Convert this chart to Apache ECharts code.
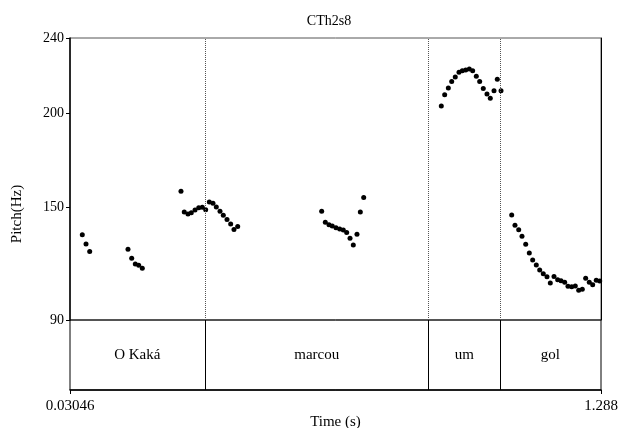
<!DOCTYPE html>
<html><head><meta charset="utf-8">
<script src="https://cdn.jsdelivr.net/npm/echarts@6/dist/echarts.min.js"></script>
<style>html,body{margin:0;padding:0;background:#fff}#c{width:619px;height:428px}</style>
</head><body><div id="c"></div>
<script>
const chartTitle = "CTh2s8";
const xName = "Time (s)";
const yName = "Pitch(Hz)";
const xMin = 0.03046, xMax = 1.288;
const yMin = 90, yMax = 240;
const yTicks = [90, 150, 200, 240];
const xTicks = [0.03046, 1.288];
const xTickLabels = ["0.03046", "1.288"];

const times = [
  0.0596, 0.0684, 0.0771,
  0.1678, 0.1766, 0.1851, 0.1932, 0.2017,
  0.2933, 0.3011, 0.3099, 0.3177, 0.3265, 0.3353, 0.3438, 0.3518, 0.3604, 0.3691, 0.3769, 0.3857, 0.3935, 0.4023, 0.4110, 0.4188, 0.4276,
  0.6265, 0.6351, 0.6438, 0.6516, 0.6604, 0.6692, 0.6777, 0.6857, 0.6936, 0.7014, 0.7101, 0.7180, 0.7260,
  0.9098, 0.9178, 0.9264, 0.9344, 0.9429, 0.9517, 0.9595, 0.9676, 0.9761, 0.9841, 0.9927, 1.0007, 1.0092, 1.0180, 1.0258, 1.0346, 1.0424, 1.0512,
  1.0765, 1.0843, 1.0931, 1.1009, 1.1097, 1.1182, 1.1262, 1.1348, 1.1428, 1.1513, 1.1601, 1.1679, 1.1767, 1.1854, 1.1933, 1.2020, 1.2098, 1.2186, 1.2271, 1.2352, 1.2437, 1.2517, 1.2603, 1.2683, 1.2768, 1.2849
];
const pitch = [
  135.4, 130.4, 126.5,
  127.6, 122.8, 119.8, 119.1, 117.5,
  158.5, 147.4, 146.4, 147.1, 148.5, 149.7, 150.0, 148.7, 152.7, 152.1, 150.1, 147.8, 145.7, 143.4, 141.1, 138.2, 139.8,
  147.8, 142.0, 140.7, 140.0, 139.1, 138.4, 137.9, 136.6, 133.5, 129.9, 135.6, 147.4, 155.1,
  203.8, 209.8, 213.4, 216.8, 219.3, 221.8, 222.6, 223.0, 223.5, 222.6, 219.6, 216.8, 213.2, 210.2, 207.9, 212.0, 218.0, 212.0,
  145.9, 140.4, 138.0, 134.5, 130.3, 125.6, 121.9, 119.3, 116.6, 114.6, 113.0, 109.7, 113.2, 111.4, 110.9, 110.1, 107.9, 107.7, 108.1, 105.8, 106.3, 112.2, 110.1, 108.8, 111.1, 110.7
];
const boundaries = [0.3490, 0.8806, 1.0476];
const intervalLabels = ["O Kaká", "marcou", "um", "gol"];

const FONT = "Liberation Serif";
const edges = [xMin, ...boundaries, xMax];
const labelData = intervalLabels.map((t, i) => ({ value: [(edges[i] + edges[i + 1]) / 2, 0.5], name: t }));
const pts = times.map((t, i) => [t, pitch[i]]);

const chart = echarts.init(document.getElementById('c'), null, { renderer: 'canvas' });
chart.setOption({
  animation: false,
  backgroundColor: '#fff',
  textStyle: { fontFamily: FONT },
  grid: [
    { left: 70, right: 18, top: 38, height: 282, outerBoundsMode: 'none', containLabel: false, show: true, borderColor: '#555', borderWidth: 1, backgroundColor: 'transparent' },
    { left: 70, right: 18, top: 320, height: 70, outerBoundsMode: 'none', containLabel: false, show: true, borderColor: '#000', borderWidth: 1, backgroundColor: 'transparent' }
  ],
  xAxis: [
    { gridIndex: 0, type: 'value', min: xMin, max: xMax, show: false },
    { gridIndex: 1, type: 'value', min: xMin, max: xMax, position: 'bottom',
      axisLine: { show: true, lineStyle: { color: '#000', width: 1.5 } },
      axisTick: { show: true, customValues: xTicks, length: 4, lineStyle: { color: '#000' } },
      axisLabel: { show: true, customValues: xTicks, margin: 9, color: '#000', fontFamily: FONT, fontSize: 15,
        formatter: v => xTickLabels[xTicks.indexOf(v)] ?? String(v) },
      splitLine: { show: false },
      name: xName, nameLocation: 'middle', nameGap: 24,
      nameTextStyle: { color: '#000', fontFamily: FONT, fontSize: 15 } }
  ],
  yAxis: [
    { gridIndex: 0, type: 'value', min: yMin, max: yMax,
      axisLine: { show: true, lineStyle: { color: '#000', width: 1.5 } },
      axisTick: { show: true, customValues: yTicks, length: 4, lineStyle: { color: '#000' } },
      axisLabel: { show: true, customValues: yTicks, margin: 6, color: '#000', fontFamily: FONT, fontSize: 14 },
      splitLine: { show: false } },
    { gridIndex: 0, type: 'value', min: yMin, max: yMax, position: 'right',
      axisLine: { show: true, lineStyle: { color: '#000', width: 1 } },
      axisTick: { show: false }, axisLabel: { show: false }, splitLine: { show: false } },
    { gridIndex: 1, type: 'value', min: 0, max: 1, show: false }
  ],
  graphic: [
    { type: 'text', x: 329, y: 21, style: { text: chartTitle, fill: '#000', font: '14px "Liberation Serif"', align: 'center', verticalAlign: 'middle' } },
    { type: 'text', x: 17, y: 214, rotation: Math.PI / 2, style: { text: yName, fill: '#000', font: '15px "Liberation Serif"', align: 'center', verticalAlign: 'middle' } }
  ],
  series: [
    { type: 'scatter', xAxisIndex: 0, yAxisIndex: 0, data: pts, symbol: 'circle', symbolSize: 5,
      itemStyle: { color: '#000', opacity: 1 }, silent: true,
      markLine: { silent: true, symbol: 'none', label: { show: false },
        lineStyle: { color: '#555', type: 'dotted', width: 1 },
        data: boundaries.map(b => ({ xAxis: b })) } },
    { type: 'scatter', xAxisIndex: 1, yAxisIndex: 2, data: labelData, symbolSize: 0, silent: true,
      itemStyle: { opacity: 1 },
      label: { show: true, position: 'inside', formatter: p => p.name, color: '#000', fontFamily: FONT, fontSize: 15 },
      markLine: { silent: true, symbol: 'none', label: { show: false },
        lineStyle: { color: '#000', type: 'solid', width: 1 },
        data: boundaries.map(b => ({ xAxis: b })) } }
  ]
});
</script>
</body></html>
